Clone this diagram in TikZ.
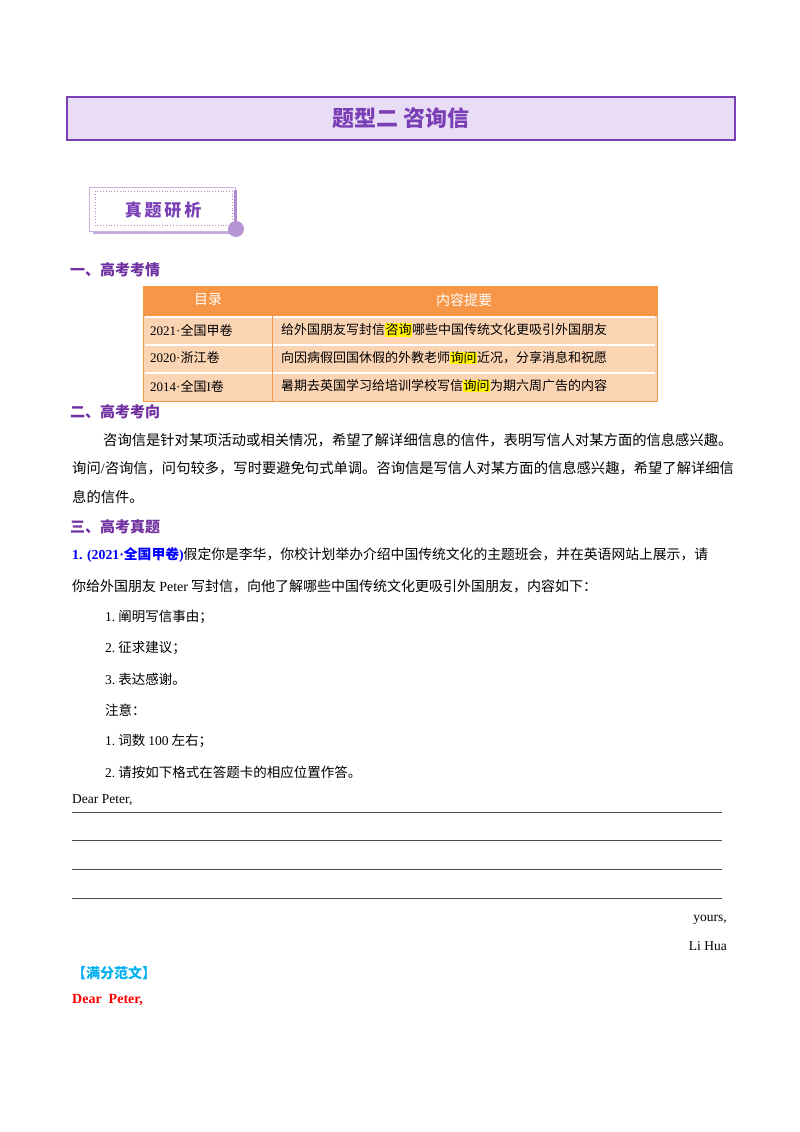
\documentclass[tikz,border=0pt]{standalone}
\usepackage{fontspec}
\setmainfont{Liberation Serif}
\newfontfamily\cjk{Noto Sans CJK SC}
\newfontfamily\lat{Liberation Serif}
\usetikzlibrary{calc}
\definecolor{pur}{HTML}{7B3FB5}
\definecolor{lpur}{HTML}{E9DDF6}
\definecolor{hpur}{HTML}{7030A0}
\definecolor{ora}{HTML}{F79646}
\definecolor{lora}{HTML}{FBD4B4}
\definecolor{hbl}{HTML}{00B0F0}
\newcommand{\hl}[1]{{\setlength{\fboxsep}{0.5pt}\colorbox{yellow}{#1}}}
\newcommand{\lt}[1]{{\lat #1}}
\begin{document}
\begin{tikzpicture}[x=1pt,y=-1pt,
  txt/.style={anchor=west,inner sep=0pt,font=\fontsize{13.5}{15}\selectfont\cjk},
  cell/.style={anchor=west,inner sep=0pt,font=\fontsize{13}{15}\selectfont\cjk},
  head/.style={anchor=west,inner sep=0pt,font=\fontsize{15}{17}\selectfont\cjk\bfseries,text=hpur},
  rule/.style={draw=black!70,line width=0.6pt}]
\useasboundingbox (0,0) rectangle (800,1132);
\fill[white] (0,0) rectangle (800,1132);
% title
\node[draw=pur,line width=2pt,fill=lpur,minimum width=668,minimum height=43,anchor=north west,inner sep=0] (title) at (66,96) {};
\node[text=pur,font=\fontsize{22}{24}\selectfont\cjk\bfseries] at (title.center) {题型二\ 咨询信};
% badge
\fill[pur!45] (93,228) rectangle (236,234);
\node[draw=pur!40,fill=white,minimum width=146,minimum height=44,anchor=north west,inner sep=0] (badge) at (89,187) {};
\draw[pur!60,dotted,line width=0.8pt] (95,191) rectangle (232,225);
\fill[pur!60] (234,190) rectangle (237,226);
\fill[pur!55] (236,229) circle (8);
\node[text=pur,font=\fontsize{17}{19}\selectfont\cjk\bfseries] (bt) at (163,210) {真\,题\,研\,析};
% section 1
\node[head] (s1) at (70,270) {一、高考考情};
% table
\fill[ora] (143,286) rectangle (657,316);
\fill[lora] (143,316) rectangle (657,401);
\draw[white,line width=2pt] (145,317) -- (655,317) (145,345) -- (655,345) (145,373) -- (655,373);
\draw[ora,line width=1pt] (143,286) rectangle (657,401) (272,316) -- (272,401);
\node[text=white,font=\fontsize{14}{16}\selectfont\cjk] at (208,300) {目录};
\node[text=white,font=\fontsize{14}{16}\selectfont\cjk] at (464,300) {内容提要};
\node[cell] at (150,330) {\lt{2021·}全国甲卷};
\node[cell] at (150,358) {\lt{2020·}浙江卷};
\node[cell] at (150,386) {\lt{2014·}全国\lt{I}卷};
\node[cell] at (281,330) {给外国朋友写封信\hl{咨询}哪些中国传统文化更吸引外国朋友};
\node[cell] at (281,358) {向因病假回国休假的外教老师\hl{询问}近况，分享消息和祝愿};
\node[cell] at (281,386) {暑期去英国学习给培训学校写信\hl{询问}为期六周广告的内容};
% section 2
\node[head] (s2) at (70,412) {二、高考考向};
\node[txt,font=\fontsize{14.3}{15}\selectfont\cjk] at (103,440) {咨询信是针对某项活动或相关情况，希望了解详细信息的信件，表明写信人对某方面的信息感兴趣。};
\node[txt,font=\fontsize{14.3}{15}\selectfont\cjk] at (72,468) {询问\lt{/}咨询信，问句较多，写时要避免句式单调。咨询信是写信人对某方面的信息感兴趣，希望了解详细信};
\node[txt,font=\fontsize{14.3}{15}\selectfont\cjk] at (72,497) {息的信件。};
% section 3
\node[head] (s3) at (70,527) {三、高考真题};
\node[txt,font=\fontsize{13.8}{15}\selectfont\cjk] at (72,555) {\textcolor{blue}{\bfseries\lt{\bfseries 1. (2021·}全国甲卷\lt{\bfseries )}}假定你是李华，你校计划举办介绍中国传统文化的主题班会，并在英语网站上展示，请};
\node[txt,font=\fontsize{14}{15}\selectfont\cjk] at (72,586) {你给外国朋友 \lt{Peter} 写封信，向他了解哪些中国传统文化更吸引外国朋友，内容如下：};
\node[txt] at (105,617) {\lt{1.}\ 阐明写信事由；};
\node[txt] at (105,648) {\lt{2.}\ 征求建议；};
\node[txt] at (105,679) {\lt{3.}\ 表达感谢。};
\node[txt] at (105,710) {注意：};
\node[txt] at (105,741) {\lt{1.}\ 词数 \lt{100} 左右；};
\node[txt] at (105,772) {\lt{2.}\ 请按如下格式在答题卡的相应位置作答。};
\node[anchor=west,inner sep=0,font=\fontsize{13.5}{15}\selectfont] (dp) at (72,800) {Dear Peter,};
\coordinate (l1a) at (72,812); \coordinate (l1b) at (722,812);
\coordinate (l2a) at (72,840); \coordinate (l2b) at (722,840);
\coordinate (l3a) at (72,869); \coordinate (l3b) at (722,869);
\coordinate (l4a) at (72,898); \coordinate (l4b) at (722,898);
\draw[rule] (l1a) -- (l1b); \draw[rule] (l2a) -- (l2b);
\draw[rule] (l3a) -- (l3b); \draw[rule] (l4a) -- (l4b);
\node[anchor=east,inner sep=0,font=\fontsize{13.5}{15}\selectfont] (yr) at (727,920) {yours,};
\node[anchor=east,inner sep=0,font=\fontsize{13.5}{15}\selectfont] (lh) at (727,946) {Li Hua};
\node[anchor=west,inner sep=0,text=hbl,font=\fontsize{14}{15}\selectfont\cjk\bfseries] (mf) at (72,973) {【满分范文】};
\node[anchor=west,inner sep=0,text=red,font=\fontsize{14}{15}\selectfont\bfseries] (dp2) at (72,1000) {Dear\ \ Peter,};
\end{tikzpicture}
\end{document}
